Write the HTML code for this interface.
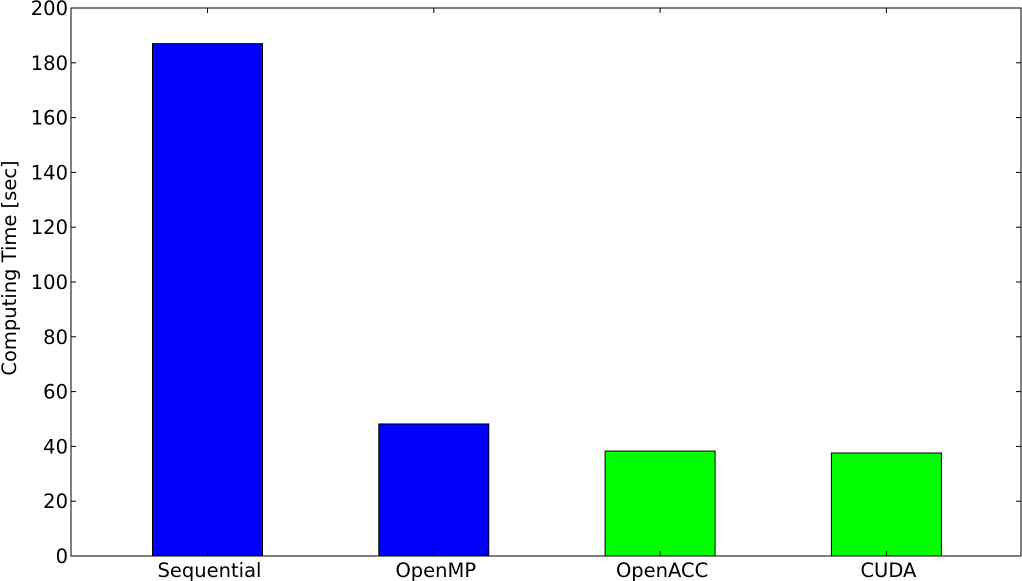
<!DOCTYPE html>
<html><head><meta charset="utf-8"><style>
html,body{margin:0;padding:0;background:#fff;}
svg{display:block;font-family:"DejaVu Sans","Liberation Sans",sans-serif;}
</style></head><body>
<svg id="chart" width="1022" height="581"></svg>
<script>
const categories = ["Sequential","OpenMP","OpenACC","CUDA"];
const values = [187, 48.2, 38.3, 37.6];
const barColors = ["#0000ff","#0000ff","#00ff00","#00ff00"];
const yTicks = [0,20,40,60,80,100,120,140,160,180,200];

const NS="http://www.w3.org/2000/svg";
const svg=document.getElementById('chart');
const L=71,R=1021,T=8,B=556;
const yMax=200;
const y=v=>B-(v/yMax)*(B-T);
const step=226.3, x0=207.5;
const x=i=>x0+i*step;
const barW=110;
function mk(tag,attrs,parent){const e=document.createElementNS(NS,tag);for(const k in attrs)e.setAttribute(k,attrs[k]);(parent||svg).appendChild(e);return e;}

const bars=mk('g',{});


categories.forEach((c,i)=>{
  const r=mk('rect',{x:x(i)-barW/2,y:y(values[i]),width:barW,height:B-y(values[i]),fill:barColors[i],stroke:'#000','stroke-width':1},bars);
  
  
  const t=mk('text',{x:x(i)+2,y:B+21,'text-anchor':'middle','font-size':19.5,fill:'#000'});
  t.textContent=c;
  
  
  mk('line',{x1:x(i),x2:x(i),y1:B,y2:B-5,stroke:'#000'});
  mk('line',{x1:x(i),x2:x(i),y1:T,y2:T+5,stroke:'#000'});
});
yTicks.forEach(v=>{
  mk('line',{x1:L,x2:L+5,y1:y(v),y2:y(v),stroke:'#000'});
  mk('line',{x1:R,x2:R-5,y1:y(v),y2:y(v),stroke:'#000'});
  const t=mk('text',{x:L-3,y:y(v)+7,'text-anchor':'end','font-size':19.5,fill:'#000'});
  t.textContent=v;
  
  
});
const frame=mk('rect',{x:L,y:T,width:R-L,height:B-T,fill:'none',stroke:'#000','stroke-width':1});


const yt=mk('text',{x:16,y:268,'text-anchor':'middle','font-size':19.5,fill:'#000',transform:'rotate(-90 16 268)'});
yt.textContent='Computing Time [sec]';


</script>
</body></html>
